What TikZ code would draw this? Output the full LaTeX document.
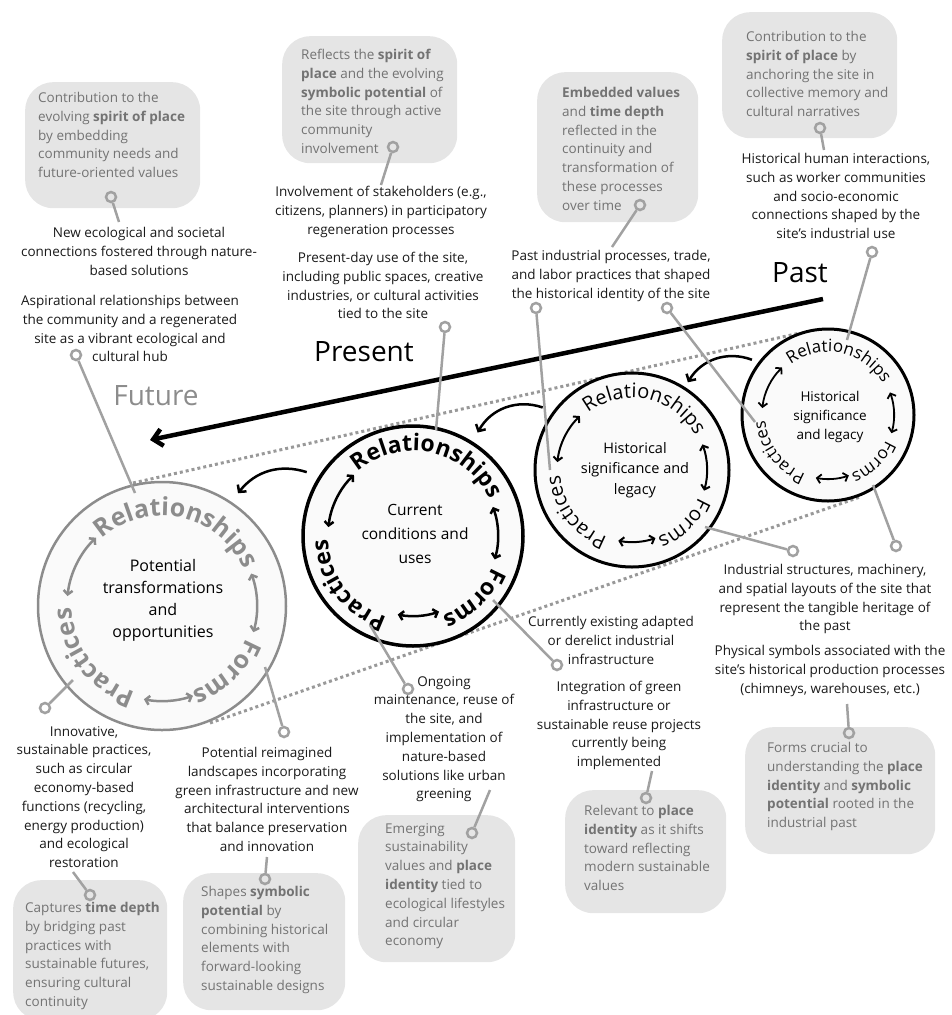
\documentclass[tikz,border=0pt]{standalone}
\usepackage{fontspec}
\setmainfont{Open Sans}
\usetikzlibrary{arrows.meta,decorations.text}

\tikzset{
  desc/.style={align=center, inner sep=0pt, anchor=north, text=black!90,
    font=\fontsize{13.5}{18.8}\selectfont},
  notebox/.style={fill=black!10, rounded corners=28pt, inner sep=0pt, anchor=north west},
  notetext/.style={align=left, inner sep=0pt, anchor=north west, text=black!55,
    font=\fontsize{13.5}{18.8}\selectfont},
  pinring/.style={circle, draw=black!37, line width=2.5pt, minimum size=10pt, inner sep=0pt},
  leader/.style={draw=black!37, line width=2.5pt},
  ring/.style={circle, draw, fill=black!2, inner sep=0pt},
  era/.style={anchor=base, inner sep=0pt, font=\fontsize{28}{28}\selectfont},
  core/.style={align=center, inner sep=0pt},
  tangent/.style={draw=black!40, line width=3pt, dash pattern=on 3pt off 3pt},
  eraflow/.style={->, line width=2.5pt, >={Straight Barb[length=5pt,width=11pt]}},
  ringarrow/.style={<->, >={Straight Barb[length=4pt,width=9pt]}},
}

\begin{document}
\begin{tikzpicture}[x=1pt, y=1pt]
  \useasboundingbox (0,0) rectangle (951,-1015);

  % corridor between future and past
  \coordinate (topA) at (133,-483);
  \coordinate (topB) at (800,-333);
  \coordinate (botA) at (210,-723);
  \coordinate (botB) at (860,-497);
  \draw[tangent] (topA) -- (topB);
  \draw[tangent] (botA) -- (botB);

  % time line
  \coordinate (tlstart) at (823,-299);
  \coordinate (tlend) at (150,-440);
  \draw[line width=4.5pt, -{Straight Barb[length=9pt,width=17pt]}] (tlstart) -- (tlend);

  \node[era] (pastlbl) at (800,-282) {Past};
  \node[era] (presentlbl) at (364,-361) {Present};
  \node[era, text=black!45] (futurelbl) at (156,-405) {Future};

  % the four rings
  \node[ring, draw=black!45, line width=2.5pt, minimum size=248pt] (future) at (162,-606) {};
  \node[ring, line width=3.5pt, minimum size=220pt] (present) at (413,-536) {};
  \node[ring, line width=3pt, minimum size=194pt] (pastA) at (632,-470) {};
  \node[ring, line width=3pt, minimum size=172pt] (pastB) at (828,-415) {};

  \node[core, font=\fontsize{16}{22}\selectfont] (futuretxt) at (163,-600) {Potential\\transformations\\and\\opportunities};
  \node[core, font=\fontsize{15.5}{24}\selectfont] (presenttxt) at (415,-534) {Current\\conditions and\\uses};
  \node[core, font=\fontsize{14.5}{20.5}\selectfont] (pastAtxt) at (635,-470) {Historical\\significance and\\legacy};
  \node[core, font=\fontsize{13.5}{19}\selectfont] (pastBtxt) at (830,-417) {Historical\\significance\\and legacy};

  % ring labels
  \path[decorate, decoration={text along path, text align=center,
    text={|\bfseries\fontsize{25}{25}\selectfont\color{black!45}|Relationships}}]
    (future.center) ++(138:90) arc[start angle=138, end angle=18, radius=90];
  \path[decorate, decoration={text along path, text align=center,
    text={|\bfseries\fontsize{25}{25}\selectfont\color{black!45}|Forms}}]
    (future.center) ++(14:90) arc[start angle=14, end angle=-106, radius=90];
  \path[decorate, decoration={text along path, text align=center,
    text={|\bfseries\fontsize{25}{25}\selectfont\color{black!45}|Practices}}]
    (future.center) ++(-83:90) arc[start angle=-83, end angle=-203, radius=90];

  \path[decorate, decoration={text along path, text align=center,
    text={|\bfseries\fontsize{23}{23}\selectfont|Relationships}}]
    (present.center) ++(138:85) arc[start angle=138, end angle=18, radius=85];
  \path[decorate, decoration={text along path, text align=center,
    text={|\bfseries\fontsize{23}{23}\selectfont|Forms}}]
    (present.center) ++(14:85) arc[start angle=14, end angle=-106, radius=85];
  \path[decorate, decoration={text along path, text align=center,
    text={|\bfseries\fontsize{23}{23}\selectfont|Practices}}]
    (present.center) ++(-83:85) arc[start angle=-83, end angle=-203, radius=85];

  \path[decorate, decoration={text along path, text align=center,
    text={|\fontsize{20}{20}\selectfont|Relationships}}]
    (pastA.center) ++(138:72) arc[start angle=138, end angle=18, radius=72];
  \path[decorate, decoration={text along path, text align=center,
    text={|\fontsize{20}{20}\selectfont|Forms}}]
    (pastA.center) ++(14:72) arc[start angle=14, end angle=-106, radius=72];
  \path[decorate, decoration={text along path, text align=center,
    text={|\fontsize{20}{20}\selectfont|Practices}}]
    (pastA.center) ++(-83:72) arc[start angle=-83, end angle=-203, radius=72];

  \path[decorate, decoration={text along path, text align=center,
    text={|\fontsize{17}{17}\selectfont|Relationships}}]
    (pastB.center) ++(138:63) arc[start angle=138, end angle=18, radius=63];
  \path[decorate, decoration={text along path, text align=center,
    text={|\fontsize{17}{17}\selectfont|Forms}}]
    (pastB.center) ++(14:63) arc[start angle=14, end angle=-106, radius=63];
  \path[decorate, decoration={text along path, text align=center,
    text={|\fontsize{17}{17}\selectfont|Practices}}]
    (pastB.center) ++(-83:63) arc[start angle=-83, end angle=-203, radius=63];

  % arrows inside the rings
  \draw[ringarrow, draw=black!45, line width=2.5pt] (future.center) ++(134:95) arc[start angle=134, end angle=174, radius=95];
  \draw[ringarrow, draw=black!45, line width=2.5pt] (future.center) ++(20:95) arc[start angle=20, end angle=-16, radius=95];
  \draw[ringarrow, draw=black!45, line width=2.5pt] (future.center) ++(-101:95) arc[start angle=-101, end angle=-71, radius=95];
  \draw[ringarrow, line width=2.5pt] (present.center) ++(134:85) arc[start angle=134, end angle=174, radius=85];
  \draw[ringarrow, line width=2.5pt] (present.center) ++(20:85) arc[start angle=20, end angle=-16, radius=85];
  \draw[ringarrow, line width=2.5pt] (present.center) ++(-101:80) arc[start angle=-101, end angle=-71, radius=80];
  \draw[ringarrow, line width=2pt] (pastA.center) ++(134:75) arc[start angle=134, end angle=174, radius=75];
  \draw[ringarrow, line width=2pt] (pastA.center) ++(20:75) arc[start angle=20, end angle=-16, radius=75];
  \draw[ringarrow, line width=2pt] (pastA.center) ++(-101:72) arc[start angle=-101, end angle=-71, radius=72];
  \draw[ringarrow, line width=1.8pt] (pastB.center) ++(134:66) arc[start angle=134, end angle=174, radius=66];
  \draw[ringarrow, line width=1.8pt] (pastB.center) ++(20:66) arc[start angle=20, end angle=-16, radius=66];
  \draw[ringarrow, line width=1.8pt] (pastB.center) ++(-101:64) arc[start angle=-101, end angle=-71, radius=64];

  % flow from past to future
  \draw[eraflow] ([shift={(144:94)}]pastB.center) to[bend right=40] ([shift={(57.5:104)}]pastA.center);
  \draw[eraflow] ([shift={(145:109)}]pastA.center) to[bend right=40] ([shift={(58:122)}]present.center);
  \draw[eraflow] ([shift={(149:124)}]present.center) to[bend right=35] ([shift={(56:136)}]future.center);

  % descriptions
  \node[desc] (newlinks) at (139,-227) {New ecological and societal\\connections fostered through nature-\\based solutions};
  \node[desc] (aspiration) at (130,-295) {Aspirational relationships between\\the community and a regenerated\\site as a vibrant ecological and\\cultural hub};
  \node[desc] (stakeholders) at (381,-186) {Involvement of stakeholders (e.g.,\\citizens, planners) in participatory\\regeneration processes};
  \node[desc] (presentuse) at (383,-252) {Present-day use of the site,\\including public spaces, creative\\industries, or cultural activities\\tied to the site};
  \node[desc] (pastprocess) at (611,-250) {Past industrial processes, trade,\\and labor practices that shaped\\the historical identity of the site};
  \node[desc] (humanlinks) at (836,-153) {Historical human interactions,\\such as worker communities\\and socio-economic\\connections shaped by the\\site's industrial use};
  \node[desc] (innovative) at (84,-726) {Innovative,\\sustainable practices,\\such as circular\\economy-based\\functions (recycling,\\energy production)\\and ecological\\restoration};
  \node[desc] (landscapes) at (267,-747) {Potential reimagined\\landscapes incorporating\\green infrastructure and new\\architectural interventions\\that balance preservation\\and innovation};
  \node[desc] (maintenance) at (444,-676) {Ongoing\\maintenance, reuse of\\the site, and\\implementation of\\nature-based\\solutions like urban\\greening};
  \node[desc] (derelict) at (611,-616) {Currently existing adapted\\or derelict industrial\\infrastructure};
  \node[desc] (greening) at (619,-681) {Integration of green\\infrastructure or\\sustainable reuse projects\\currently being\\implemented};
  \node[desc] (structures) at (825,-564) {Industrial structures, machinery,\\and spatial layouts of the site that\\represent the tangible heritage of\\the past};
  \node[desc] (symbols) at (830,-645) {Physical symbols associated with the\\site's historical production processes\\(chimneys, warehouses, etc.)};

  % value notes
  \node[notebox, minimum width=175pt, minimum height=126pt] (note1) at (25,-82) {};
  \node[notetext] (note1txt) at (38,-92) {Contribution to the\\evolving \textbf{spirit of place}\\by embedding\\community needs and\\future-oriented values};
  \node[notebox, minimum width=175pt, minimum height=127pt] (note2) at (282,-36) {};
  \node[notetext] (note2txt) at (301,-49) {Reflects the \textbf{spirit of}\\\textbf{place} and the evolving\\\textbf{symbolic potential} of\\the site through active\\community\\involvement};
  \node[notebox, minimum width=161pt, minimum height=150pt] (note3) at (537,-72) {};
  \node[notetext] (note3txt) at (562,-87) {\textbf{Embedded values}\\and \textbf{time depth}\\reflected in the\\continuity and\\transformation of\\these processes\\over time};
  \node[notebox, minimum width=175pt, minimum height=126pt] (note4) at (722,-12) {};
  \node[notetext] (note4txt) at (746,-31) {Contribution to the\\\textbf{spirit of place} by\\anchoring the site in\\collective memory and\\cultural narratives};
  \node[notebox, minimum width=154pt, minimum height=140pt] (note5) at (13,-880) {};
  \node[notetext] (note5txt) at (25,-902) {Captures \textbf{time depth}\\by bridging past\\practices with\\sustainable futures,\\ensuring cultural\\continuity};
  \node[notebox, minimum width=162pt, minimum height=137pt] (note6) at (183,-873) {};
  \node[notetext] (note6txt) at (201,-886) {Shapes \textbf{symbolic}\\\textbf{potential} by\\combining historical\\elements with\\forward-looking\\sustainable designs};
  \node[notebox, minimum width=157pt, minimum height=147pt] (note7) at (358,-815) {};
  \node[notetext] (note7txt) at (385,-823) {Emerging\\sustainability\\values and \textbf{place}\\\textbf{identity} tied to\\ecological lifestyles\\and circular\\economy};
  \node[notebox, minimum width=161pt, minimum height=123pt] (note8) at (565,-790) {};
  \node[notetext] (note8txt) at (584,-805) {Relevant to \textbf{place}\\\textbf{identity} as it shifts\\toward reflecting\\modern sustainable\\values};
  \node[notebox, minimum width=190pt, minimum height=127pt] (note9) at (745,-727) {};
  \node[notetext] (note9txt) at (767,-742) {Forms crucial to\\understanding the \textbf{place}\\\textbf{identity} and \textbf{symbolic}\\\textbf{potential} rooted in the\\industrial past};

  % leaders
  \node[pinring] (pinnote1) at (111,-197) {};
  \coordinate (endnote1) at (119,-222);
  \draw[leader] (pinnote1) -- (endnote1);
  \node[pinring] (pinaspiration) at (76,-355) {};
  \coordinate (futrel) at (135,-493);
  \draw[leader] (pinaspiration) -- (futrel);
  \node[pinring] (pinnote2) at (393,-147) {};
  \coordinate (endnote2) at (381,-185);
  \draw[leader] (pinnote2) -- (endnote2);
  \node[pinring] (pinpresentuse) at (445,-327) {};
  \coordinate (prerel) at (436,-430);
  \draw[leader] (pinpresentuse) -- (prerel);
  \node[pinring] (pinnote3) at (640,-205) {};
  \coordinate (endnote3) at (612,-247);
  \draw[leader] (pinnote3) -- (endnote3);
  \node[pinring] (pinprocessA) at (536,-308) {};
  \coordinate (pastApra) at (550,-470);
  \draw[leader] (pinprocessA) -- (pastApra);
  \node[pinring] (pinprocessB) at (667,-308) {};
  \coordinate (pastBpra) at (755,-422);
  \draw[leader] (pinprocessB) -- (pastBpra);
  \node[pinring] (pinnote4) at (820,-128) {};
  \coordinate (endnote4) at (824,-150);
  \draw[leader] (pinnote4) -- (endnote4);
  \node[pinring] (pinhumanlinks) at (872,-252) {};
  \coordinate (pastBrel) at (847,-340);
  \draw[leader] (pinhumanlinks) -- (pastBrel);
  \node[pinring] (pininnovative) at (45,-708) {};
  \coordinate (futpra) at (73,-680);
  \draw[leader] (pininnovative) -- (futpra);
  \node[pinring] (pinlandscapes) at (284,-732) {};
  \coordinate (futfor) at (265,-667);
  \draw[leader] (pinlandscapes) -- (futfor);
  \node[pinring] (pinnote5) at (90,-895) {};
  \coordinate (endnote5) at (73,-872);
  \draw[leader] (pinnote5) -- (endnote5);
  \node[pinring] (pinnote6) at (265,-879) {};
  \coordinate (endnote6) at (267,-857);
  \draw[leader] (pinnote6) -- (endnote6);
  \node[pinring] (pinmaintenance) at (408,-689) {};
  \coordinate (prepra) at (370,-625);
  \draw[leader] (pinmaintenance) -- (prepra);
  \node[pinring] (pinnote7) at (472,-833) {};
  \coordinate (endnote7) at (490,-790);
  \draw[leader] (pinnote7) -- (endnote7);
  \node[pinring] (pinderelict) at (557,-665) {};
  \coordinate (prefor) at (493,-600);
  \draw[leader] (pinderelict) -- (prefor);
  \node[pinring] (pinnote8) at (646,-798) {};
  \coordinate (endnote8) at (652,-771);
  \draw[leader] (pinnote8) -- (endnote8);
  \node[pinring] (pinstructures) at (793,-551) {};
  \coordinate (pastAfor) at (705,-527);
  \draw[leader] (pinstructures) -- (pastAfor);
  \node[pinring] (pinsymbols) at (896,-546) {};
  \coordinate (pastBfor) at (873,-485);
  \draw[leader] (pinsymbols) -- (pastBfor);
  \node[pinring] (pinnote9) at (849,-733) {};
  \coordinate (endnote9) at (847,-704);
  \draw[leader] (pinnote9) -- (endnote9);
\end{tikzpicture}
\end{document}
